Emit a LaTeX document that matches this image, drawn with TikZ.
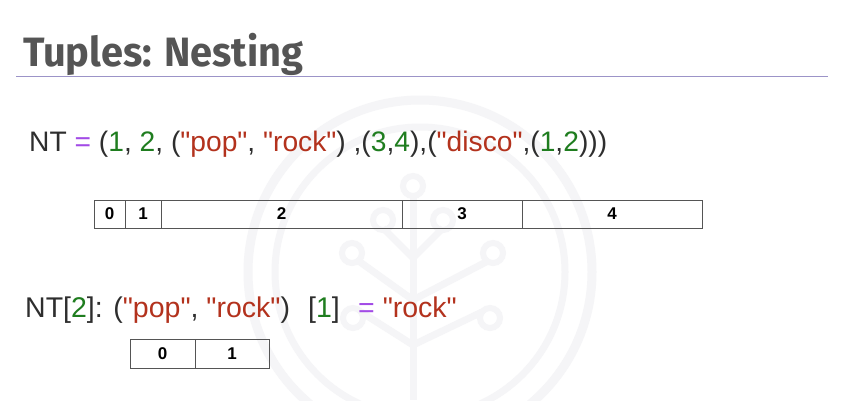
\documentclass[tikz,border=0pt]{standalone}
\usepackage{fontspec}
\setmainfont{Liberation Sans}[Ligatures=TeXOff]
\newfontfamily\titlefont{Fira Sans}[FakeStretch=0.97]
\usetikzlibrary{positioning}

\definecolor{titlegray}{HTML}{555555}
\definecolor{txtgray}{HTML}{2E2E2E}
\definecolor{rulelav}{HTML}{9C94C8}
\definecolor{eqpurple}{HTML}{A24BE6}
\definecolor{numgreen}{HTML}{1F7D1F}
\definecolor{strred}{HTML}{B3321D}
\definecolor{cellline}{HTML}{555555}
\definecolor{wmgray}{HTML}{F5F5F7}

\newcommand{\ival}[1]{\textcolor{numgreen}{#1}}
\newcommand{\sval}[1]{\textcolor{strred}{#1}}

\begin{document}
\begin{tikzpicture}[x=1pt,y=-1pt,
    cell/.style={
    % box of one index
    draw=cellline, line width=0.9pt,
    minimum height=28pt, inner sep=0pt, outer sep=0pt,
    font=\bfseries\fontsize{17}{17}\selectfont},
    codeline/.style={anchor=base west, inner sep=0pt, text=txtgray},
    wm/.style={draw=wmgray, line width=7pt}]
  \useasboundingbox[fill=white] (0,0) rectangle (861,400);

  % faint logo in the background
  \draw[wm, line width=9pt] (420,272) circle (172);
  \draw[wm] (420,272) circle (145);
  \draw[wm] (413,197) -- (413,400);
  \draw[wm] (383,228) -- (413,258) -- (443,228);
  \draw[wm] (360,262) -- (413,300) -- (486,262);
  \draw[wm] (361,312) -- (413,345) -- (482,312);
  \foreach \cx/\cy in {413/186, 383/220, 443/220, 352/253, 493/253, 353/318, 490/318}
    \draw[wm, line width=6pt] (\cx,\cy) circle (10);

  % heading
  \node (title) [anchor=base west, inner sep=0pt, text=titlegray,
    font=\titlefont\bfseries\fontsize{41}{41}\selectfont] at (23,66) {Tuples: Nesting};
  \draw[rulelav, line width=0.8pt] (16,76) -- (828,76);

  % the nested tuple
  \node (nt) [codeline, font=\fontsize{28.2}{28.2}\selectfont] at (29,151)
    {NT \textcolor{eqpurple}{=} (\ival{1}, \ival{2}, (\sval{"pop"}, \sval{"rock"}) ,(\ival{3},\ival{4}),(\sval{"disco"},(\ival{1},\ival{2})))};

  \node (c0) [cell, minimum width=31pt, anchor=north west] at (94,200) {0};
  \node (c1) [cell, minimum width=36pt, right=0pt of c0] {1};
  \node (c2) [cell, minimum width=241pt, right=0pt of c1] {2};
  \node (c3) [cell, minimum width=120pt, right=0pt of c2] {3};
  \node (c4) [cell, minimum width=180pt, right=0pt of c3] {4};

  % indexing the inner tuple
  \node (sub) [codeline, font=\fontsize{28.5}{28.5}\selectfont] at (25,317)
    {NT[\ival{2}]: (\sval{"pop"}, \sval{"rock"})};
  \node (idx) [codeline, font=\fontsize{28.5}{28.5}\selectfont] at (308,317) {[\ival{1}]};
  \node (res) [codeline, font=\fontsize{28.5}{28.5}\selectfont] at (358,317)
    {\textcolor{eqpurple}{=} \sval{"rock"}};

  \node (d0) [cell, minimum width=65pt, minimum height=29pt, anchor=north west] at (130,339) {0};
  \node (d1) [cell, minimum width=74pt, minimum height=29pt, right=0pt of d0] {1};
\end{tikzpicture}
\end{document}
